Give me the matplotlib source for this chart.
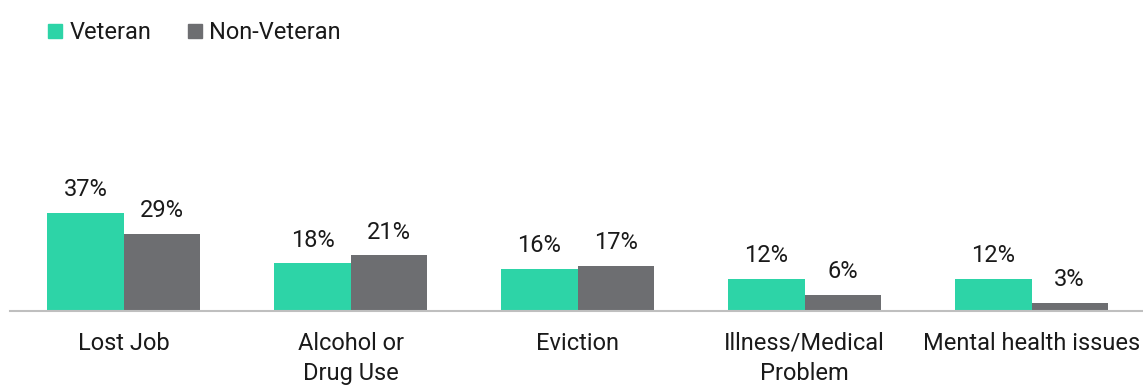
import numpy as np
from matplotlib import pyplot as plt
from matplotlib.lines import Line2D

plt.rcParams['font.family'] = ['Roboto', 'DejaVu Sans']

categories = ['Lost Job', 'Alcohol or\nDrug Use', 'Eviction', 'Illness/Medical\nProblem', 'Mental health issues']
veteran = [37, 18, 16, 12, 12]
non_veteran = [29, 21, 17, 6, 3]

vet_color = '#2dd4a7'
non_color = '#6d6e71'
fs = 17

fig = plt.figure(figsize=(11.43, 3.85), dpi=100)
ax = fig.add_axes([10 / 1143, 74 / 385, 1135 / 1143, 250 / 385])

x = np.arange(len(categories))
w = 0.335
b1 = ax.bar(x - w / 2, veteran, w, color=vet_color)
b2 = ax.bar(x + w / 2, non_veteran, w, color=non_color)

for bars, vals in [(b1, veteran), (b2, non_veteran)]:
    for bar, v in zip(bars, vals):
        ax.annotate('{}%'.format(v), (bar.get_x() + bar.get_width() / 2, bar.get_height()),
                    xytext=(0, 8.5), textcoords='offset points', ha='center', va='bottom',
                    fontsize=fs, color='#1a1a1a')

ax.set_xlim(-0.5, 4.5)
ax.set_ylim(0, 94.5)
ax.set_xticks(x)
ax.set_xticklabels(categories, fontsize=fs, color='#1a1a1a', linespacing=1.38)
ax.tick_params(axis='x', length=0, pad=15)
ax.set_yticks([])
for s in ['top', 'right', 'left']:
    ax.spines[s].set_visible(False)
ax.spines['bottom'].set_color('#bfbfbf')
ax.spines['bottom'].set_linewidth(1.5)

handles = [Line2D([], [], marker='s', linestyle='none', color=vet_color, markersize=9.5),
           Line2D([], [], marker='s', linestyle='none', color=non_color, markersize=9.5)]
fig.legend(handles, ['Veteran', 'Non-Veteran'], loc='upper left', bbox_to_anchor=(27 / 1143, 1.0),
           frameon=False, fontsize=fs, ncol=2, handlelength=0.6, handletextpad=0.3, columnspacing=1.55,
           labelcolor='#1a1a1a')

plt.savefig('out.png')
